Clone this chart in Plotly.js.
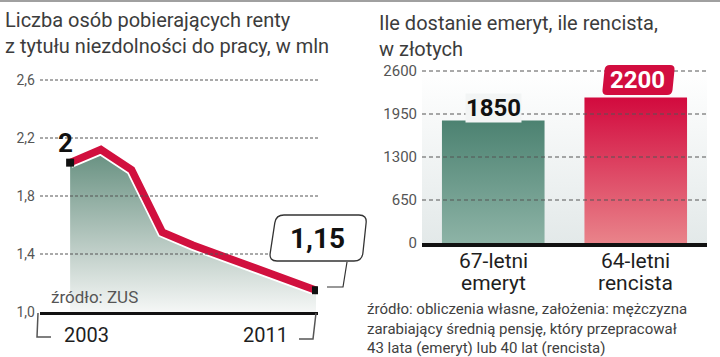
<!DOCTYPE html>
<html>
<head>
<meta charset="utf-8">
<script src="https://cdn.plot.ly/plotly-3.0.1.min.js"></script>
<style>
  html, body { margin: 0; padding: 0; background: #ffffff; }
  #chart { width: 720px; height: 357px; }
</style>
</head>
<body>
<div id="chart"></div>
<script>
// ---------- data ----------
const years = [2003, 2004, 2005, 2006, 2007, 2008, 2009, 2010, 2011];
const recipientsMln = [2.03, 2.12, 1.98, 1.55, 1.46, 1.38, 1.31, 1.23, 1.15];
const firstLabel = '2';
const lastLabel = '1,15';
const yearLabels = ['2003', '2011'];
const leftTickVals = [1.0, 1.4, 1.8, 2.2, 2.6];
const leftTickText = ['1,0', '1,4', '1,8', '2,2', '2,6'];

const pensionCategories = ['67-letni<br>emeryt', '64-letni<br>rencista'];
const pensionValues = [1850, 2200];
const pensionLabels = ['1850', '2200'];
const rightTickVals = [0, 650, 1300, 1950, 2600];
const rightTickText = ['0', '650', '1300', '1950', '2600'];

const leftTitle = 'Liczba osób pobierających renty<br>z tytułu niezdolności do pracy, w mln';
const rightTitle = 'Ile dostanie emeryt, ile rencista,<br>w złotych';
const leftSource = 'źródło: ZUS';
const rightSource = 'źródło: obliczenia własne, założenia: mężczyzna<br>zarabiający średnią pensję, który przepracował<br>43 lata (emeryt) lub 40 lat (rencista)';

// ---------- helpers (page pixel -> paper) ----------
const W = 720, H = 357;
const px = x => x / W;
const py = y => 1 - y / H;
function pxPath(cmds) {
  return cmds.map(c => {
    const op = c[0];
    const nums = c.slice(1);
    const out = [];
    for (let i = 0; i < nums.length; i += 2) out.push(px(nums[i]).toFixed(5) + ',' + py(nums[i + 1]).toFixed(5));
    return op + ' ' + out.join(' ');
  }).join(' ') + ' Z';
}
function pxLine(cmds) {
  return cmds.map(c => c[0] + ' ' + px(c[1]).toFixed(5) + ',' + py(c[2]).toFixed(5)).join(' ');
}

const FONT = 'Roboto, "Open Sans", sans-serif';
const last = years.length - 1;
const catRange = [-0.5, pensionValues.length - 0.5];
const barWidth = 0.72;

// ---------- traces ----------
const traces = [];
// left: gradient area
traces.push({
  x: years, y: recipientsMln, xaxis: 'x', yaxis: 'y', type: 'scatter', mode: 'lines',
  line: { width: 0 }, fill: 'tozeroy', fillcolor: '#9fb5ac',
  fillgradient: { type: 'vertical', start: leftTickVals[0], stop: Math.max(...recipientsMln),
    colorscale: [[0, '#f5f7f6'], [0.35, '#c3d1cb'], [1, '#658f7f']] },
  hoverinfo: 'skip'
});
// white halo + red line
traces.push({ x: years, y: recipientsMln, xaxis: 'x', yaxis: 'y', type: 'scatter', mode: 'lines',
  line: { color: '#ffffff', width: 11 }, hoverinfo: 'skip' });
traces.push({ x: years, y: recipientsMln, xaxis: 'x', yaxis: 'y', type: 'scatter', mode: 'lines',
  line: { color: '#d1103e', width: 7.5 } });
// end markers
traces.push({ x: [years[0], years[last]], y: [recipientsMln[0], recipientsMln[last]],
  xaxis: 'x', yaxis: 'y', type: 'scatter', mode: 'markers',
  marker: { symbol: 'square', size: 8, color: '#111111' }, hoverinfo: 'skip' });

// right: plot background gradient
traces.push({
  x: [catRange[0], catRange[1], catRange[1], catRange[0], catRange[0]],
  y: [0, 0, rightTickVals[rightTickVals.length - 1], rightTickVals[rightTickVals.length - 1], 0],
  xaxis: 'x2', yaxis: 'y2', type: 'scatter', mode: 'lines', line: { width: 0 },
  fill: 'toself', fillcolor: '#eef1f1',
  fillgradient: { type: 'vertical', colorscale: [[0, '#e3e9e9'], [1, '#ffffff']] },
  hoverinfo: 'skip'
});
// bars
const barColors = ['#6b9a8b', '#dd3f57'];
const barGradients = [
  [[0, '#8db3a6'], [1, '#4c8271']],
  [[0, '#e9838a'], [1, '#d20a3e']]
];
traces.push({ type: 'bar', x: pensionValues.map((v, i) => i), y: pensionValues, width: barWidth,
  xaxis: 'x2', yaxis: 'y2', marker: { color: barColors, line: { width: 0 } } });
pensionValues.forEach((v, i) => {
  traces.push({
    x: [i - barWidth / 2, i + barWidth / 2, i + barWidth / 2, i - barWidth / 2, i - barWidth / 2],
    y: [0, 0, v, v, 0], xaxis: 'x2', yaxis: 'y2', type: 'scatter', mode: 'lines',
    line: { width: 0 }, fill: 'toself', fillcolor: barColors[i],
    fillgradient: { type: 'vertical', start: 0, stop: v, colorscale: barGradients[i] },
    hoverinfo: 'skip'
  });
});

// ---------- shapes ----------
const shapes = [];
// top separator
shapes.push({ type: 'line', xref: 'paper', yref: 'paper', x0: 0, x1: 1, y0: py(1), y1: py(1),
  line: { color: '#a0a0a0', width: 2 } });
// dashed gridlines drawn above traces
leftTickVals.slice(1).forEach(v => shapes.push({ type: 'line', xref: 'x domain', yref: 'y',
  x0: 0, x1: 1, y0: v, y1: v, layer: 'above', line: { color: '#555555', width: 1, dash: '3px,2px' } }));
rightTickVals.slice(1).forEach(v => shapes.push({ type: 'line', xref: 'x2 domain', yref: 'y2',
  x0: 0, x1: 1, y0: v, y1: v, layer: 'above', line: { color: '#555555', width: 1, dash: '4px,3px' } }));
// year brackets
shapes.push({ type: 'path', xref: 'paper', yref: 'paper', layer: 'above',
  path: pxLine([['M', 38, 313], ['L', 37, 337], ['L', 51, 337]]), line: { color: '#555555', width: 1.5 } });
shapes.push({ type: 'path', xref: 'paper', yref: 'paper', layer: 'above',
  path: pxLine([['M', 316, 313], ['L', 313, 339], ['L', 299, 339]]), line: { color: '#555555', width: 1.5 } });
// "1,15" callout box + connector
shapes.push({ type: 'path', xref: 'paper', yref: 'paper', layer: 'above',
  path: pxLine([['M', 347, 262], ['L', 343, 287], ['L', 327, 287]]), line: { color: '#333333', width: 1.2 } });
shapes.push({ type: 'path', xref: 'paper', yref: 'paper', layer: 'above', fillcolor: '#ffffff',
  line: { color: '#333333', width: 1.3 },
  path: pxPath([['M', 284, 215], ['L', 359, 215], ['Q', 367, 215, 366.1, 223], ['L', 362.9, 253],
    ['Q', 362, 261, 354, 261], ['L', 277, 261], ['Q', 269, 261, 270.2, 253.1], ['L', 274.8, 222.9],
    ['Q', 276, 215, 284, 215]]) });
// "2200" red label box
shapes.push({ type: 'path', xref: 'paper', yref: 'paper', layer: 'above', fillcolor: '#d20d3f',
  line: { width: 0 },
  path: pxPath([['M', 610, 65], ['L', 670, 65], ['Q', 675, 65, 674.5, 70], ['L', 672.5, 90],
    ['Q', 672, 95, 667, 95], ['L', 607, 95], ['Q', 602, 95, 602.5, 90], ['L', 604.5, 70],
    ['Q', 605, 65, 610, 65]]) });

// ---------- annotations ----------
const annotations = [
  { xref: 'paper', yref: 'paper', x: px(3), y: py(6), xanchor: 'left', yanchor: 'top', align: 'left',
    text: leftTitle, showarrow: false, font: { family: FONT, size: 20, color: '#3c3c3c' } },
  { xref: 'paper', yref: 'paper', x: px(377), y: py(9), xanchor: 'left', yanchor: 'top', align: 'left',
    text: rightTitle, showarrow: false, font: { family: FONT, size: 20, color: '#3c3c3c' } },
  { xref: 'x', yref: 'y', x: years[0], y: recipientsMln[0], xanchor: 'center', yanchor: 'bottom',
    xshift: -5, yshift: 3, text: '<b>' + firstLabel + '</b>', showarrow: false,
    font: { family: FONT, size: 26, color: '#111111' } },
  { xref: 'paper', yref: 'paper', x: px(317), y: py(238), xanchor: 'center', yanchor: 'middle',
    text: '<b>' + lastLabel + '</b>', showarrow: false, font: { family: FONT, size: 28, color: '#111111' } },
  { xref: 'paper', yref: 'paper', x: px(86), y: py(335), xanchor: 'center', yanchor: 'middle',
    text: yearLabels[0], showarrow: false, font: { family: FONT, size: 20, color: '#1e1e1e' } },
  { xref: 'paper', yref: 'paper', x: px(265), y: py(335), xanchor: 'center', yanchor: 'middle',
    text: yearLabels[1], showarrow: false, font: { family: FONT, size: 20, color: '#1e1e1e' } },
  { xref: 'paper', yref: 'paper', x: px(49), y: py(297), xanchor: 'left', yanchor: 'middle',
    text: leftSource, showarrow: false, font: { family: FONT, size: 17, color: '#555555' } },
  { xref: 'paper', yref: 'paper', x: px(366), y: py(299), xanchor: 'left', yanchor: 'top', align: 'left',
    text: rightSource, showarrow: false, borderpad: 0, font: { family: FONT, size: 15, color: '#3f3f3f' } },
  { xref: 'x2', yref: 'y2', x: 0, y: pensionValues[0], xanchor: 'center', yanchor: 'middle', yshift: 13,
    text: '<b>' + pensionLabels[0] + '</b>', showarrow: false, bgcolor: '#f3f5f5', borderpad: 0,
    font: { family: FONT, size: 24, color: '#111111' } },
  { xref: 'x2', yref: 'y2', x: 1, y: pensionValues[1], xanchor: 'center', yanchor: 'middle', yshift: 17.5, xshift: 2,
    text: '<b>' + pensionLabels[1] + '</b>', showarrow: false,
    font: { family: FONT, size: 24, color: '#ffffff' } }
];
// category labels (two lines each, tight spacing) under the bars
pensionCategories.forEach((cat, i) => cat.split('<br>').forEach((line, k) => annotations.push({
  xref: 'x2', yref: 'paper', x: i, y: py(261 + k * 21.5), xanchor: 'center', yanchor: 'middle',
  text: line, showarrow: false, font: { family: FONT, size: 21, color: '#1e1e1e' }
})));

// ---------- layout ----------
const layout = {
  width: W, height: H,
  margin: { l: 0, r: 0, t: 0, b: 0 },
  paper_bgcolor: '#ffffff', plot_bgcolor: 'rgba(0,0,0,0)',
  showlegend: false,
  font: { family: FONT },
  xaxis: { domain: [px(40), px(318)], range: [2002.02, 2011.065], anchor: 'y',
    showgrid: false, zeroline: false, showticklabels: false, ticks: '',
    showline: true, linecolor: '#111111', linewidth: 3, fixedrange: true },
  yaxis: { domain: [py(312), py(75)], range: [1.0, 1.0 + (312 - 75) / 145], anchor: 'x',
    tickvals: leftTickVals, ticktext: leftTickText, showgrid: false, zeroline: false,
    ticks: '', ticklabelstandoff: 4, tickfont: { family: FONT, size: 14, color: '#555555' }, fixedrange: true },
  xaxis2: { domain: [px(422), px(707)], range: catRange, anchor: 'y2',
    tickvals: pensionValues.map((v, i) => i), ticktext: pensionCategories, showticklabels: false,
    showgrid: false, zeroline: false, ticks: '',
    showline: true, linecolor: '#111111', linewidth: 3.5, fixedrange: true },
  yaxis2: { domain: [py(243), py(65)], range: [0, (243 - 65) * 650 / 43], anchor: 'x2',
    tickvals: rightTickVals, ticktext: rightTickText, showgrid: false, zeroline: false,
    ticks: '', ticklabelstandoff: 4, tickfont: { family: FONT, size: 15, color: '#555555' }, fixedrange: true },
  shapes: shapes,
  annotations: annotations
};

Plotly.newPlot('chart', traces, layout, { staticPlot: true, displayModeBar: false });
</script>
</body>
</html>
